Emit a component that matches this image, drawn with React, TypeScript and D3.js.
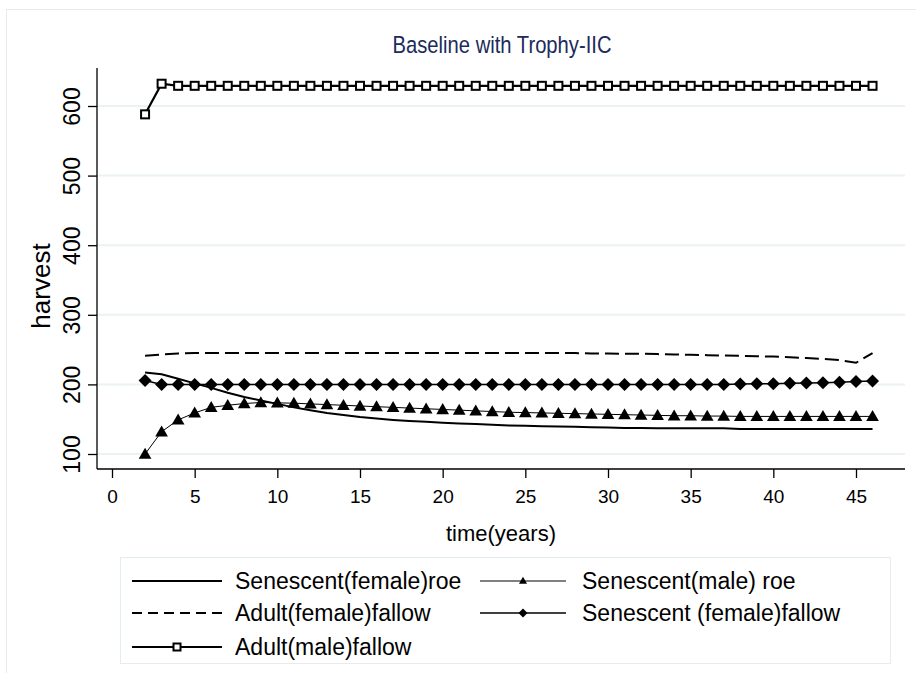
import React, { useRef, useEffect } from 'react';
import * as d3 from 'd3';

// years 2..46
const years = d3.range(2, 47);

const senFemaleRoe = [217, 214.5, 208, 201.5, 195, 188, 182, 177, 172, 167, 163, 159, 156, 153, 151, 149, 147.5, 146.5, 145, 144, 143, 142, 141, 140.5, 140, 139.5, 139, 138.5, 138, 137.5, 137.5, 137, 137, 137, 137, 137, 136, 136, 136, 136, 136, 136, 136, 136, 136];
const senMaleRoe = [100, 132, 149, 159, 167, 170, 172.5, 174, 173.5, 173, 172, 171, 170, 169, 168, 167, 166, 165, 164, 163, 162, 161, 160, 159.5, 159, 158.5, 158, 157.5, 157, 156.5, 156, 155.5, 155, 155, 154.5, 154.5, 154, 154, 154, 154, 154, 154, 154, 154, 154];
const adultFemaleFallow = [241, 243, 244.5, 245, 245, 245, 245, 245, 245, 245, 245, 245, 245, 245, 245, 245, 245, 245, 245, 245, 245, 245, 245, 245, 245, 245, 245, 244.5, 244.5, 244, 244, 243.5, 243, 242.5, 242, 241.5, 241, 240.5, 240, 239, 238, 236.5, 235, 231, 245];
const senFemaleFallow = [205.5, 200, 200, 200, 200, 200, 200, 200, 200, 200, 200, 200, 200, 200, 200, 200, 200, 200, 200, 200, 200, 200, 200, 200, 200, 200, 200, 200, 200, 200, 200, 200, 200, 200, 200, 200, 200.5, 201, 201, 201.5, 202, 202.5, 203, 204, 205];
const adultMaleFallow = [588, 632, 629, 629, 629, 629, 629, 629, 629, 629, 629, 629, 629, 629, 629, 629, 629, 629, 629, 629, 629, 629, 629, 629, 629, 629, 629, 629, 629, 629, 629, 629, 629, 629, 629, 629, 629, 629, 629, 629, 629, 629, 629, 629, 629];

const xTicks = [0, 5, 10, 15, 20, 25, 30, 35, 40, 45];
const yTicks = [100, 200, 300, 400, 500, 600];

const legendLabels = ['Senescent(female)roe', 'Senescent(male) roe', 'Adult(female)fallow', 'Senescent (female)fallow', 'Adult(male)fallow'];

const FONT = 'Liberation Sans, Arial, sans-serif';

const App = () => {
  const svgRef = useRef(null);

  useEffect(() => {
    const svg = d3.select(svgRef.current);
    svg.selectAll('*').remove();

    const W = 916, H = 673;
    const m = { left: 97, right: 905, top: 68, bottom: 469 };

    const x = d3.scaleLinear().domain([0, 45]).range([112, 856]);
    const y = d3.scaleLinear().domain([100, 600]).range([454, 106]);

    svg.append('rect').attr('width', W).attr('height', H).attr('fill', '#fff');
    // outer frame
    svg.append('rect').attr('x', 6.5).attr('y', 9.5).attr('width', W).attr('height', H)
      .attr('fill', 'none').attr('stroke', '#e3ecee').attr('stroke-width', 1);

    // grid
    svg.append('g').selectAll('line').data(yTicks).join('line')
      .attr('x1', m.left).attr('x2', m.right)
      .attr('y1', d => y(d)).attr('y2', d => y(d))
      .attr('stroke', '#eaf2f4').attr('stroke-width', 2);

    // axes
    const yAxis = svg.append('g').attr('transform', `translate(${m.left},0)`)
      .call(d3.axisLeft(y).tickValues(yTicks).tickSize(9).tickFormat(d3.format('d')));
    yAxis.select('.domain').attr('d', `M0,${m.top}V${m.bottom}`).attr('stroke', '#000').attr('stroke-width', 1.3);
    yAxis.selectAll('.tick line').attr('stroke', '#000').attr('stroke-width', 1.3);
    yAxis.selectAll('.tick text')
      .attr('font-family', FONT).attr('font-size', 23).attr('fill', '#000')
      .attr('x', null).attr('dy', null).attr('text-anchor', 'middle')
      .attr('transform', 'translate(-17,0) rotate(-90)');

    const xAxis = svg.append('g').attr('transform', `translate(0,${m.bottom})`)
      .call(d3.axisBottom(x).tickValues(xTicks).tickSize(9));
    xAxis.select('.domain').attr('d', `M${m.left},0H${m.right}`).attr('stroke', '#000').attr('stroke-width', 1.3);
    xAxis.selectAll('.tick line').attr('stroke', '#000').attr('stroke-width', 1.3);
    xAxis.selectAll('.tick text')
      .attr('font-family', FONT).attr('font-size', 19).attr('fill', '#000')
      .attr('y', 34).attr('dy', null);

    // titles
    svg.append('text').attr('transform', 'translate(502,53) scale(0.86,1)').attr('text-anchor', 'middle')
      .attr('font-family', FONT).attr('font-size', 23.5).attr('fill', '#1c2a5c')
      .text('Baseline with Trophy-IIC');
    svg.append('text').attr('x', 501).attr('y', 541).attr('text-anchor', 'middle')
      .attr('font-family', FONT).attr('font-size', 22).attr('fill', '#000')
      .text('time(years)');
    svg.append('text').attr('transform', 'translate(50,286) rotate(-90)').attr('text-anchor', 'middle')
      .attr('font-family', FONT).attr('font-size', 26).attr('fill', '#000')
      .text('harvest');

    const line = d3.line().x((d, i) => x(years[i])).y(d => y(d));

    const series = [
      { values: senFemaleRoe, width: 2, dash: null, marker: null },
      { values: senMaleRoe, width: 1, dash: null, marker: 'triangle' },
      { values: adultFemaleFallow, width: 2, dash: '14,6', marker: null },
      { values: senFemaleFallow, width: 1.5, dash: null, marker: 'diamond' },
      { values: adultMaleFallow, width: 2.2, dash: null, marker: 'square' },
    ];

    const triangle = d3.symbol().type(d3.symbolTriangle).size(70);
    const diamondPath = (s) => `M0,${-s}L${s},0L0,${s}L${-s},0Z`;

    const drawMarker = (g, type, cx, cy, big) => {
      if (type === 'triangle') {
        g.append('path').attr('d', big ? triangle() : d3.symbol().type(d3.symbolTriangle).size(28)())
          .attr('transform', `translate(${cx},${cy + (big ? 1 : 0.5)})`).attr('fill', '#000');
      } else if (type === 'diamond') {
        g.append('path').attr('d', diamondPath(big ? 6.5 : 4.5))
          .attr('transform', `translate(${cx},${cy})`).attr('fill', '#000');
      } else if (type === 'square') {
        const s = big ? 8 : 7;
        g.append('rect').attr('x', cx - s / 2).attr('y', cy - s / 2).attr('width', s).attr('height', s)
          .attr('fill', '#fff').attr('stroke', '#000').attr('stroke-width', 2);
      }
    };

    const plot = svg.append('g');
    series.forEach(s => {
      plot.append('path').datum(s.values).attr('d', line)
        .attr('fill', 'none').attr('stroke', '#000').attr('stroke-width', s.width)
        .attr('stroke-dasharray', s.dash);
      if (s.marker) {
        s.values.forEach((v, i) => drawMarker(plot, s.marker, x(years[i]), y(v), true));
      }
    });

    // legend
    const lg = svg.append('g');
    lg.append('rect').attr('x', 120.5).attr('y', 557.5).attr('width', 770).attr('height', 106)
      .attr('fill', '#fff').attr('stroke', '#e3ecee').attr('stroke-width', 1);
    const cols = [{ x1: 132, x2: 222, tx: 235 }, { x1: 480, x2: 566, tx: 582 }];
    const rows = [581, 613, 647];
    series.forEach((s, i) => {
      const c = cols[i % 2];
      const ry = rows[Math.floor(i / 2)];
      lg.append('line').attr('x1', c.x1).attr('x2', c.x2).attr('y1', ry).attr('y2', ry)
        .attr('stroke', '#000').attr('stroke-width', s.width).attr('stroke-dasharray', s.dash ? '10,6' : null);
      if (s.marker) drawMarker(lg, s.marker, (c.x1 + c.x2) / 2, ry, false);
      lg.append('text').attr('x', c.tx).attr('y', ry).attr('dy', '0.35em')
        .attr('font-family', FONT).attr('font-size', 23).attr('fill', '#000')
        .text(legendLabels[i]);
    });
  }, []);

  return (
    <svg ref={svgRef} width={916} height={673}
      style={{ position: 'absolute', left: 0, top: 0, display: 'block' }} />
  );
};

export default App;
